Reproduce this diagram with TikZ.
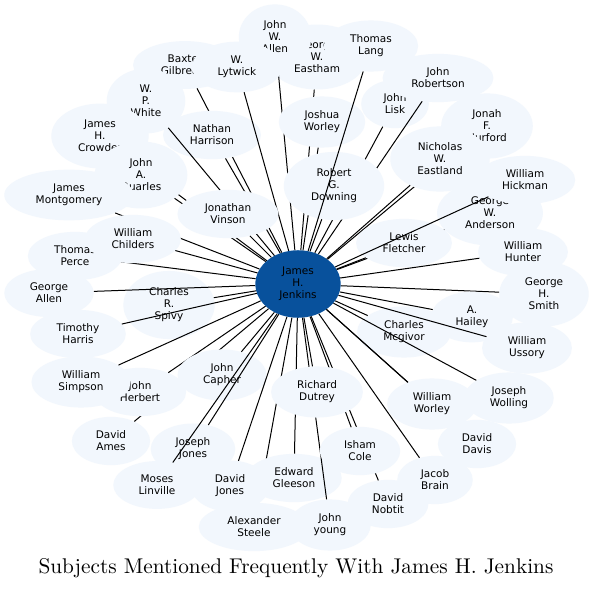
\documentclass[tikz,border=0pt]{standalone}
\usepackage{fontspec}
\newfontfamily\djv{DejaVu Sans}
\newfontfamily\titlefont{lmroman10-regular.otf}
\usetikzlibrary{shapes.geometric}
\definecolor{nodefill}{HTML}{F2F7FD}
\definecolor{hubfill}{HTML}{08519C}
\tikzset{
  person/.style={ellipse, fill=nodefill, inner xsep=12.5pt, inner ysep=7pt, align=center, font=\djv\fontsize{10.5}{12}\selectfont},
  hub/.style={person, fill=hubfill, inner xsep=11.5pt},
  link/.style={draw=black, line width=1pt},
}
\newcommand\pers[4]{\node[person] (#1) at (#2,#3) {#4}; \draw[link] (hub) -- (#1);}
\begin{document}
\begin{tikzpicture}[x=1pt,y=-1pt]
\fill[white] (0,0) rectangle (595,589);
\useasboundingbox (0,0) rectangle (595,589);
\node[hub] (hub) at (298,284) {James\\H.\\Jenkins};
\pers{eastham}{317}{57}{George\\W.\\Eastham}
\pers{allen}{275}{37}{John\\W.\\Allen}
\pers{gilbreath}{185}{65}{Baxter\\Gilbreath}
\pers{harrison}{212}{135}{Nathan\\Harrison}
\pers{lytwick}{237}{67}{W.\\Lytwick}
\pers{white}{146}{101}{W.\\P.\\White}
\pers{lisk}{395}{104}{John\\Lisk}
\pers{robertson}{438}{78}{John\\Robertson}
\pers{jworley}{322}{122}{Joshua\\Worley}
\pers{downing}{334}{186}{Robert\\G.\\Downing}
\pers{lang}{371}{46}{Thomas\\Lang}
\pers{crowder}{100}{136}{James\\H.\\Crowder}
\pers{quarles}{141}{175}{John\\A.\\Quarles}
\pers{vinson}{228}{214}{Jonathan\\Vinson}
\pers{orford}{487}{126}{Jonah\\F.\\Hurford}
\pers{eastland}{440}{159}{Nicholas\\W.\\Eastland}
\pers{anderson}{490}{213}{George\\W.\\Anderson}
\pers{fletcher}{404}{243}{Lewis\\Fletcher}
\pers{hickman}{525}{180}{William\\Hickman}
\pers{montgomery}{69}{195}{James\\Montgomery}
\pers{perce}{75}{256}{Thomas\\Perce}
\pers{childers}{133}{239}{William\\Childers}
\pers{spivy}{169}{305}{Charles\\R.\\Spivy}
\pers{gallen}{49}{293}{George\\Allen}
\pers{harris}{78}{334}{Timothy\\Harris}
\pers{hunter}{523}{252}{William\\Hunter}
\pers{smith}{544}{294}{George\\H.\\Smith}
\pers{mcgivor}{404}{332}{Charles\\Mcgivor}
\pers{hailey}{472}{317}{A.\\Hailey}
\pers{ussory}{527}{348}{William\\Ussory}
\pers{wolling}{509}{398}{Joseph\\Wolling}
\pers{ames}{111}{441}{David\\Ames}
\pers{herbert}{140}{392}{John\\Herbert}
\pers{simpson}{81}{382}{William\\Simpson}
\pers{capher}{222}{375}{John\\Capher}
\pers{jjones}{193}{449}{Joseph\\Jones}
\pers{linville}{157}{485}{Moses\\Linville}
\pers{steele}{254}{527}{Alexander\\Steele}
\pers{djones}{230}{486}{David\\Jones}
\pers{gleeson}{294}{478}{Edward\\Gleeson}
\pers{young}{330}{525}{John\\young}
\pers{nobtit}{388}{504}{David\\Nobtit}
\pers{cole}{360}{451}{Isham\\Cole}
\pers{dutrey}{317}{392}{Richard\\Dutrey}
\pers{davis}{477}{444}{David\\Davis}
\pers{wworley}{432}{404}{William\\Worley}
\pers{brain}{435}{480}{Jacob\\Brain}
\node[font=\titlefont\fontsize{21.3}{24}\selectfont, anchor=base, inner sep=0pt] (title) at (296,573) {Subjects Mentioned Frequently With James H. Jenkins};
\end{tikzpicture}
\end{document}
